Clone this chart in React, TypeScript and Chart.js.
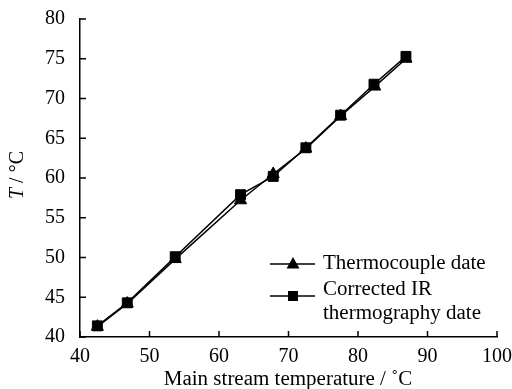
import React, { useEffect, useRef } from 'react';
import { Chart, registerables } from 'chart.js';

Chart.register(...registerables);

// Main stream temperature (°C) at each measuring point and the measured T (°C)
const thermocoupleX = [42.5, 46.8, 53.7, 63.1, 67.8, 72.5, 77.5, 82.4, 86.9];
const thermocoupleT = [41.3, 44.2, 49.8, 57.2, 60.5, 63.7, 67.8, 71.5, 75.0];
const irX = [42.5, 46.8, 53.7, 63.1, 67.8, 72.5, 77.5, 82.3, 86.9];
const irT = [41.4, 44.3, 50.1, 57.9, 60.2, 63.8, 67.9, 71.8, 75.3];

const xTicks = [40, 50, 60, 70, 80, 90, 100];
const yTicks = [40, 45, 50, 55, 60, 65, 70, 75, 80];

const seriesNames = ['Thermocouple date', 'Corrected IR', 'thermography date'];
const xTitle = 'Main stream temperature / ˚C';

const FONT = '"Liberation Serif", "Times New Roman", serif';
const FS = 20;
const STRETCH = 1.05;

function stretchedText(ctx: CanvasRenderingContext2D, text: string, x: number, y: number, align: 'left' | 'center') {
  const w = ctx.measureText(text).width * STRETCH;
  const left = align === 'center' ? x - w / 2 : x;
  ctx.save();
  ctx.translate(left, y);
  ctx.scale(STRETCH, 1);
  ctx.textAlign = 'left';
  ctx.fillText(text, 0, 0);
  ctx.restore();
}

const decorations = {
  id: 'decorations',
  afterDraw(chart: any) {
    const ctx = chart.ctx as CanvasRenderingContext2D;
    const xs = chart.scales.x;
    const ys = chart.scales.y;
    const area = chart.chartArea;
    ctx.save();
    ctx.strokeStyle = '#000';
    ctx.fillStyle = '#000';
    ctx.lineWidth = 1.5;
    // inward tick marks
    ctx.beginPath();
    xTicks.forEach((v) => {
      const px = xs.getPixelForValue(v);
      ctx.moveTo(px, area.bottom);
      ctx.lineTo(px, area.bottom - 6);
    });
    yTicks.forEach((v) => {
      const py = ys.getPixelForValue(v);
      ctx.moveTo(area.left, py);
      ctx.lineTo(area.left + 6, py);
    });
    ctx.stroke();

    // axis titles
    ctx.font = `${FS}px ${FONT}`;
    ctx.textBaseline = 'middle';
    stretchedText(ctx, xTitle, 288, 380, 'center');

    ctx.save();
    ctx.translate(18, 175);
    ctx.rotate(-Math.PI / 2);
    ctx.textAlign = 'left';
    ctx.font = `italic ${FS}px ${FONT}`;
    const tW = ctx.measureText('T').width;
    ctx.font = `${FS}px ${FONT}`;
    const rest = ' / °C';
    const rW = ctx.measureText(rest).width;
    const start = -(tW + rW) / 2;
    ctx.font = `italic ${FS}px ${FONT}`;
    ctx.fillText('T', start, 0);
    ctx.font = `${FS}px ${FONT}`;
    ctx.fillText(rest, start + tW, 0);
    ctx.restore();

    // legend
    const lx0 = 270;
    const lx1 = 315;
    const mx = 293;
    const rows = [264, 296];
    ctx.lineWidth = 1.5;
    rows.forEach((y) => {
      ctx.beginPath();
      ctx.moveTo(lx0, y);
      ctx.lineTo(lx1, y);
      ctx.stroke();
    });
    // triangle marker
    ctx.beginPath();
    ctx.moveTo(mx, rows[0] - 7);
    ctx.lineTo(mx + 6.5, rows[0] + 4.5);
    ctx.lineTo(mx - 6.5, rows[0] + 4.5);
    ctx.closePath();
    ctx.fill();
    // square marker
    ctx.fillRect(mx - 5, rows[1] - 5, 10, 10);

    stretchedText(ctx, seriesNames[0], 323, rows[0], 'left');
    stretchedText(ctx, seriesNames[1], 323, 290, 'left');
    stretchedText(ctx, seriesNames[2], 323, 314, 'left');
    ctx.restore();
  },
};

export default function App() {
  const canvasRef = useRef<HTMLCanvasElement>(null);

  useEffect(() => {
    const canvas = canvasRef.current;
    if (!canvas) return;
    const chart = new Chart(canvas, {
      type: 'scatter',
      data: {
        datasets: [
          {
            label: seriesNames[0],
            data: thermocoupleX.map((x, i) => ({ x, y: thermocoupleT[i] })),
            showLine: true,
            borderColor: '#000',
            backgroundColor: '#000',
            borderWidth: 1.5,
            pointStyle: 'triangle',
            pointRadius: 7,
            pointBorderWidth: 1,
          },
          {
            label: seriesNames[1] + ' ' + seriesNames[2],
            data: irX.map((x, i) => ({ x, y: irT[i] })),
            showLine: true,
            borderColor: '#000',
            backgroundColor: '#000',
            borderWidth: 1.5,
            pointStyle: 'rect',
            pointRadius: 7,
            pointBorderWidth: 1,
          },
        ],
      },
      options: {
        animation: false,
        responsive: false,
        devicePixelRatio: 1,
        layout: { padding: { left: 0, right: 15, top: 17, bottom: 0 } },
        plugins: {
          legend: { display: false },
          tooltip: { enabled: false },
        },
        scales: {
          x: {
            type: 'linear',
            min: 40,
            max: 100,
            afterBuildTicks: (s: any) => {
              s.ticks = xTicks.map((v) => ({ value: v }));
            },
            afterFit: (s: any) => {
              s.height = 52;
              s.paddingRight = 0;
              s.paddingLeft = 0;
            },
            grid: { display: false },
            border: { display: true, color: '#000', width: 1.5 },
            ticks: {
              color: '#000',
              padding: 0,
              maxRotation: 0,
              font: { family: FONT, size: FS },
            },
          },
          y: {
            type: 'linear',
            min: 40,
            max: 80,
            afterBuildTicks: (s: any) => {
              s.ticks = yTicks.map((v) => ({ value: v }));
            },
            afterFit: (s: any) => {
              s.width = 80;
            },
            grid: { display: false },
            border: { display: true, color: '#000', width: 1.5 },
            ticks: {
              color: '#000',
              padding: 7,
              font: { family: FONT, size: FS },
            },
          },
        },
      },
      plugins: [decorations],
    });
    return () => chart.destroy();
  }, []);

  return (
    <div style={{ position: 'absolute', left: 0, top: 0, width: 512, height: 389, background: '#fff' }}>
      <canvas ref={canvasRef} width={512} height={389} style={{ width: 512, height: 389 }} />
    </div>
  );
}
